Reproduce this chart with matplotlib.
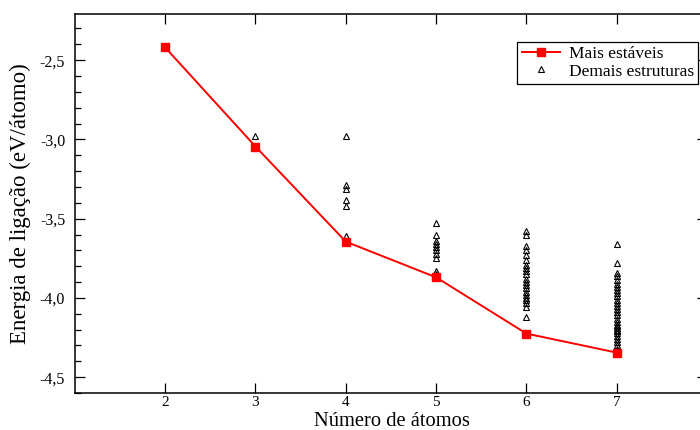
import matplotlib
matplotlib.use("Agg")
import matplotlib.pyplot as plt
from matplotlib.ticker import MultipleLocator, FuncFormatter
from matplotlib.legend_handler import HandlerLine2D

plt.rcParams['font.family'] = ['Liberation Serif', 'DejaVu Serif']

# most stable structure for each cluster size
n_stable = [2, 3, 4, 5, 6, 7]
e_stable = [-2.42, -3.045, -3.645, -3.87, -4.225, -4.345]

# other structures (isomers)
n3 = [-2.98]
n4 = [-2.98, -3.29, -3.31, -3.38, -3.42, -3.61]
n5 = [-3.53, -3.60, -3.64, -3.66, -3.68, -3.70, -3.72, -3.75, -3.83, -3.85]
n6 = [-3.58, -3.60, -3.67, -3.70, -3.73, -3.76, -3.79, -3.81, -3.83, -3.85,
      -3.88, -3.90, -3.92, -3.94, -3.96, -3.98, -4.00, -4.01, -4.03, -4.06,
      -4.12]
n7 = [-3.66, -3.78, -3.84, -3.86, -3.89, -3.91, -3.93, -3.95, -3.97, -3.99,
      -4.01, -4.03, -4.05, -4.07, -4.09, -4.11, -4.13, -4.15, -4.17, -4.18,
      -4.19, -4.20, -4.21, -4.22, -4.24, -4.26, -4.28, -4.30, -4.32, -4.34]

others = {3: n3, 4: n4, 5: n5, 6: n6, 7: n7}
ox, oy = [], []
for n, vals in others.items():
    ox += [n] * len(vals)
    oy += vals

fig = plt.figure(figsize=(7, 4.3), dpi=100)
ax = fig.add_axes([0.107, 0.086, 0.903, 0.881])

line, = ax.plot(n_stable, e_stable, color='red', lw=1.4, marker='s',
                markersize=5.5, label='Mais estáveis', zorder=3)
tri, = ax.plot(ox, oy, ls='none', marker='^', markersize=5, mfc='none',
               mec='black', mew=0.8, label='Demais estruturas', zorder=2)

ax.set_xlim(1, 8)
ax.set_ylim(-4.6, -2.21)
ax.set_xticks([2, 3, 4, 5, 6, 7])
ax.yaxis.set_major_locator(MultipleLocator(0.5))
ax.yaxis.set_minor_locator(MultipleLocator(0.1))
ax.yaxis.set_major_formatter(FuncFormatter(lambda v, p: ('%.1f' % v).replace('.', ',')))

ax.tick_params(axis='both', which='major', direction='in', length=7,
               width=0.9, labelsize=11.5, top=True, right=True)
ax.tick_params(axis='y', which='minor', direction='in', length=4,
               width=0.9, left=True, right=False)
ax.tick_params(axis='y', which='major', pad=7)
ax.tick_params(axis='x', which='major', pad=2.5, labelsize=11)
for s in ax.spines.values():
    s.set_linewidth(1.1)

fig.text(392 / 700, 1 - 426.5 / 430, 'Número de átomos', fontsize=14.8,
         ha='center', va='baseline')
ax.set_ylabel('Energia de ligação (eV/átomo)', fontsize=16.5, labelpad=6)

leg = ax.legend(handles=[line, tri], loc='upper right',
                bbox_to_anchor=(698 / 700, 1 - 42 / 430),
                bbox_transform=fig.transFigure, borderaxespad=0,
                fontsize=12.5, fancybox=False, framealpha=1, edgecolor='black',
                handlelength=2.2, handletextpad=0.5, borderpad=0.25,
                labelspacing=0.05,
                handler_map={tri: HandlerLine2D(numpoints=1)})
leg.get_frame().set_linewidth(0.9)

fig.savefig('out.png', dpi=100)
